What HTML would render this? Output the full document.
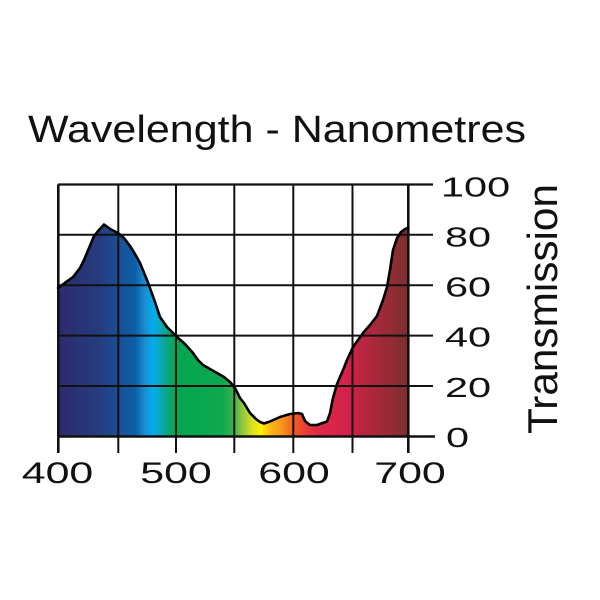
<!DOCTYPE html>
<html>
<head>
<meta charset="utf-8">
<style>
  html, body { margin:0; padding:0; background:#fff; }
  svg { display:block; }
  text { font-family: "Liberation Sans", Arial, sans-serif; fill:#111; }
</style>
</head>
<body>
<svg width="600" height="600" viewBox="0 0 600 600" xmlns="http://www.w3.org/2000/svg">
  <defs>
    <linearGradient id="spec" gradientUnits="userSpaceOnUse" x1="58" y1="0" x2="408" y2="0">
      <stop offset="0" stop-color="#2e2a6b"/>
      <stop offset="0.12" stop-color="#243d80"/>
      <stop offset="0.171" stop-color="#1b4f93"/>
      <stop offset="0.22" stop-color="#0b5fa8"/>
      <stop offset="0.249" stop-color="#1a8fd0"/>
      <stop offset="0.271" stop-color="#00aeef"/>
      <stop offset="0.291" stop-color="#0fa6c0"/>
      <stop offset="0.314" stop-color="#0aa77a"/>
      <stop offset="0.337" stop-color="#00a651"/>
      <stop offset="0.469" stop-color="#0fa84f"/>
      <stop offset="0.503" stop-color="#3cb44a"/>
      <stop offset="0.526" stop-color="#8dc63f"/>
      <stop offset="0.554" stop-color="#d7df23"/>
      <stop offset="0.58" stop-color="#fff200"/>
      <stop offset="0.606" stop-color="#fdb913"/>
      <stop offset="0.64" stop-color="#f7941d"/>
      <stop offset="0.677" stop-color="#f15a24"/>
      <stop offset="0.706" stop-color="#ea3c37"/>
      <stop offset="0.743" stop-color="#df2a45"/>
      <stop offset="0.834" stop-color="#d2214b"/>
      <stop offset="0.863" stop-color="#bd2540"/>
      <stop offset="1" stop-color="#7b2f2f"/>
    </linearGradient>
  </defs>

  <!-- Title -->
  <text x="28" y="142" font-size="38" textLength="498" lengthAdjust="spacingAndGlyphs">Wavelength - Nanometres</text>

  <!-- Filled spectrum area -->
  <path fill="url(#spec)" stroke="none" d="
    M58,288 L66,282 L73,277 L80,268 L84,260 L89,248 L94,236 L99,230 L104,224.5
    L111,229.5 L118,233 L124,238 L130,246 L135,254 L140,263 L147,280 L155,302
    L160,317 L167,327 L172,332 L177,337 L185,344 L193,353 L198,360 L203,365
    L210,369 L217,373 L224,377 L230,382 L235,388 L240,398 L244,403 L250,413
    L256,419 L260,422 L264,423.5 L270,421.5 L280,417 L290,414 L298,413 L302,414
    L305,421 L310,425 L317,425 L327,421.5 L330,413 L333,398 L337,384 L343,370
    L347,360 L353,347 L363,333 L370,325 L377,316 L383,300 L387,287 L390,270
    L393,250 L397,238 L401,232 L405,229 L408,228 L408,436.5 L58,436.5 Z"/>

  <!-- Grid -->
  <g stroke="#111" stroke-width="2" fill="none">
    <!-- horizontal -->
    <line x1="58" y1="184.5" x2="433" y2="184.5" stroke-width="2.2"/>
    <line x1="58" y1="234.8" x2="433" y2="234.8"/>
    <line x1="58" y1="285.2" x2="433" y2="285.2"/>
    <line x1="58" y1="335.6" x2="433" y2="335.6"/>
    <line x1="58" y1="386" x2="433" y2="386"/>
    <line x1="58" y1="436.5" x2="435" y2="436.5" stroke-width="2.4"/>
    <!-- vertical -->
    <line x1="58.3" y1="184.5" x2="58.3" y2="453" stroke-width="2.6"/>
    <line x1="118.3" y1="184.5" x2="118.3" y2="453"/>
    <line x1="176" y1="184.5" x2="176" y2="453"/>
    <line x1="234.3" y1="184.5" x2="234.3" y2="453"/>
    <line x1="293.3" y1="184.5" x2="293.3" y2="453"/>
    <line x1="352.5" y1="184.5" x2="352.5" y2="453"/>
    <line x1="408.3" y1="184.5" x2="408.3" y2="453" stroke-width="2.6"/>
  </g>

  <!-- Curve outline -->
  <path fill="none" stroke="#000" stroke-width="2.6" stroke-linejoin="round" stroke-linecap="round" d="
    M58,288 L66,282 L73,277 L80,268 L84,260 L89,248 L94,236 L99,230 L104,224.5
    L111,229.5 L118,233 L124,238 L130,246 L135,254 L140,263 L147,280 L155,302
    L160,317 L167,327 L172,332 L177,337 L185,344 L193,353 L198,360 L203,365
    L210,369 L217,373 L224,377 L230,382 L235,388 L240,398 L244,403 L250,413
    L256,419 L260,422 L264,423.5 L270,421.5 L280,417 L290,414 L298,413 L302,414
    L305,421 L310,425 L317,425 L327,421.5 L330,413 L333,398 L337,384 L343,370
    L347,360 L353,347 L363,333 L370,325 L377,316 L383,300 L387,287 L390,270
    L393,250 L397,238 L401,232 L405,229 L408,228"/>

  <!-- Bottom labels -->
  <g font-size="30">
    <text transform="translate(57.5,483) scale(1.43,1)" text-anchor="middle">400</text>
    <text transform="translate(176,483) scale(1.43,1)" text-anchor="middle">500</text>
    <text transform="translate(294,483) scale(1.43,1)" text-anchor="middle">600</text>
    <text transform="translate(410,483) scale(1.43,1)" text-anchor="middle">700</text>
  </g>

  <!-- Right labels -->
  <g font-size="28">
    <text transform="translate(441,196.5) scale(1.48,1)">100</text>
    <text transform="translate(445,246.5) scale(1.48,1)">80</text>
    <text transform="translate(445,296.5) scale(1.48,1)">60</text>
    <text transform="translate(445,346.5) scale(1.48,1)">40</text>
    <text transform="translate(445,397) scale(1.48,1)">20</text>
    <text transform="translate(446,447) scale(1.48,1)">0</text>
  </g>

  <!-- Y axis title -->
  <text transform="translate(557,434) rotate(-90)" font-size="42" textLength="250" lengthAdjust="spacingAndGlyphs">Transmission</text>
</svg>
</body>
</html>
